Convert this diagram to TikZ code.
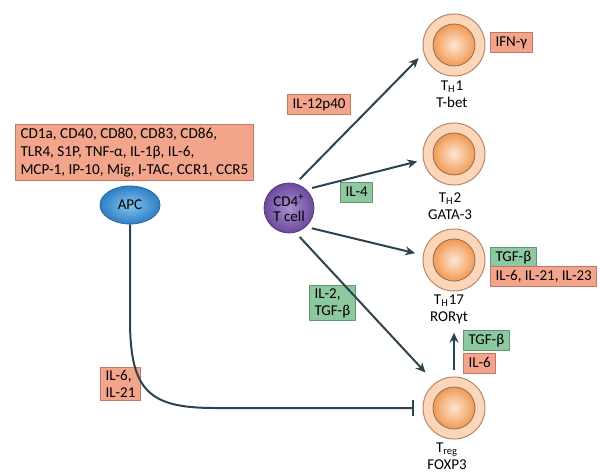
\documentclass[tikz,border=0pt]{standalone}
\usepackage{fontspec}
\setmainfont{Carlito}
\usetikzlibrary{arrows.meta,shapes.geometric}
\definecolor{lnk}{HTML}{2E4350}
\definecolor{salfill}{HTML}{F3A58B}
\definecolor{saldraw}{HTML}{C27764}
\definecolor{grnfill}{HTML}{8DC8A0}
\definecolor{grndraw}{HTML}{5E9874}
\definecolor{ringfill}{HTML}{FBD6B8}
\definecolor{ringdraw}{HTML}{B8876B}
\definecolor{corein}{HTML}{FDE6D2}
\definecolor{coreout}{HTML}{F09A55}
\definecolor{apcin}{HTML}{82C4F0}
\definecolor{apcout}{HTML}{2F7FC4}
\definecolor{cdin}{HTML}{A890CE}
\definecolor{cdout}{HTML}{6C4A9C}
\tikzset{
  redbox/.style={draw=saldraw,fill=salfill,line width=.5pt,anchor=north west,align=left,inner xsep=2.5pt,inner ysep=1.4pt},
  grnbox/.style={redbox,draw=grndraw,fill=grnfill},
  oneline/.style={text height=5.5pt,text depth=1.7pt},
  cell/.style={circle,draw=ringdraw,fill=ringfill,minimum size=31pt,inner sep=0pt,line width=.5pt},
  arr/.style={->,draw=lnk,line width=1pt,shorten <=3pt},
}
\begin{document}
\begin{tikzpicture}[x=.5pt,y=-.5pt,>={Stealth[length=5pt,width=4.5pt]},line join=round,font=\fontsize{7.5}{8.6}\selectfont]
\useasboundingbox (0,0) rectangle (600,476);
\foreach \n/\y in {th1/45,th2/154,th17/260,treg/408}
{\node[cell] (\n) at (454,\y) {};
\shadedraw[inner color=corein,outer color=coreout,draw=ringdraw!80!black,line width=.4pt] (\n) circle (10.5pt);}
\node[align=center] (th1lab) at (452,94) {T\textsubscript{H}1\\T-bet};
\node[align=center] (th2lab) at (450,206) {T\textsubscript{H}2\\GATA-3};
\node[align=center] (th17lab) at (449,309) {T\textsubscript{H}17\\RORγt};
\node[align=center] (treglab) at (447,456) {T\textsubscript{reg}\\FOXP3};
\node[ellipse,minimum width=30pt,minimum height=19pt,inner sep=0pt,draw=apcout!80!black,inner color=apcin,outer color=apcout,line width=.4pt] (apc) at (130,205) {APC};
\node[circle,minimum size=25pt,inner sep=0pt,draw=cdout!80!black,inner color=cdin,outer color=cdout,line width=.4pt,align=center,font=\fontsize{7.5}{7.8}\selectfont] (cd4) at (289,208) {CD4\textsuperscript{+}\\T cell};
\node[redbox,minimum width=111pt,minimum height=28pt,font=\fontsize{7.6}{9}\selectfont] (markers) at (15,124) {CD1a, CD40, CD80, CD83, CD86,\\TLR4, S1P, TNF-α, IL-1β, IL-6,\\MCP-1, IP-10, Mig, I-TAC, CCR1, CCR5};
\node[redbox,oneline] (ifn) at (490,32) {IFN-γ};
\node[redbox,oneline] (il12) at (287,94) {IL-12p40};
\node[grnbox,oneline] (il4) at (340,182) {IL-4};
\node[grnbox] (il2) at (309,285) {IL-2,\\TGF-β};
\node[grnbox,oneline] (tgfa) at (490,247) {TGF-β};
\node[redbox,oneline] (il6a) at (490,266) {IL-6, IL-21, IL-23};
\node[grnbox,oneline] (tgfb) at (463,330) {TGF-β};
\node[redbox,oneline] (il6b) at (463,353) {IL-6};
\node[redbox] (il6c) at (100,367) {IL-6,\\IL-21};
\draw[arr,shorten >=3.5pt] (cd4.75) -- (th1.195);
\draw[arr,shorten >=3pt] (cd4.47) -- (th2.191);
\draw[arr,shorten >=4pt] (cd4.-48) -- (th17.171);
\draw[arr,shorten >=7pt] (cd4.-75) -- (treg.127);
\draw[arr,shorten <=3.5pt,shorten >=1pt] (treg.north) -- (treg.north |- th17lab.south);
\draw[draw=lnk,line width=1pt,-{Bar[width=8pt]},shorten >=4.5pt] (apc.south) -- (130,320) .. controls (130,392) and (150,408) .. (215,408) -- (treg.west);
\end{tikzpicture}
\end{document}
